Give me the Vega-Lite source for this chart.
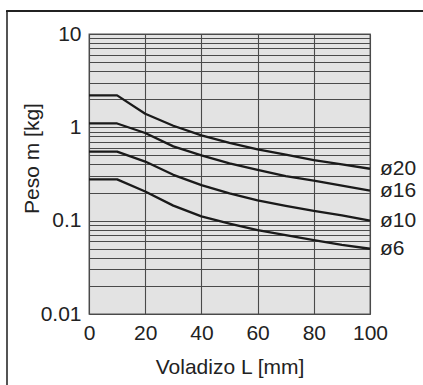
{
  "$schema": "https://vega.github.io/schema/vega-lite/v6.json",
  "width": 281,
  "height": 280,
  "autosize": {"type": "none"},
  "padding": {"left": 89, "top": 34, "right": 53, "bottom": 71},
  "background": "white",
  "config": {
    "font": "Liberation Sans",
    "view": {"fill": "#e3e3e3", "stroke": "#555555", "strokeWidth": 1.3}
  },
  "data": {
    "values": [
      {"s": "ø20", "L": 0, "m": 2.2}, {"s": "ø20", "L": 10, "m": 2.2}, {"s": "ø20", "L": 20, "m": 1.4}, {"s": "ø20", "L": 30, "m": 1.04}, {"s": "ø20", "L": 40, "m": 0.82}, {"s": "ø20", "L": 50, "m": 0.68}, {"s": "ø20", "L": 60, "m": 0.58}, {"s": "ø20", "L": 70, "m": 0.51}, {"s": "ø20", "L": 80, "m": 0.445}, {"s": "ø20", "L": 90, "m": 0.4}, {"s": "ø20", "L": 100, "m": 0.36},
      {"s": "ø16", "L": 0, "m": 1.1}, {"s": "ø16", "L": 10, "m": 1.1}, {"s": "ø16", "L": 20, "m": 0.87}, {"s": "ø16", "L": 30, "m": 0.625}, {"s": "ø16", "L": 40, "m": 0.5}, {"s": "ø16", "L": 50, "m": 0.41}, {"s": "ø16", "L": 60, "m": 0.35}, {"s": "ø16", "L": 70, "m": 0.30}, {"s": "ø16", "L": 80, "m": 0.268}, {"s": "ø16", "L": 90, "m": 0.237}, {"s": "ø16", "L": 100, "m": 0.21},
      {"s": "ø10", "L": 0, "m": 0.55}, {"s": "ø10", "L": 10, "m": 0.55}, {"s": "ø10", "L": 20, "m": 0.43}, {"s": "ø10", "L": 30, "m": 0.31}, {"s": "ø10", "L": 40, "m": 0.24}, {"s": "ø10", "L": 50, "m": 0.196}, {"s": "ø10", "L": 60, "m": 0.165}, {"s": "ø10", "L": 70, "m": 0.144}, {"s": "ø10", "L": 80, "m": 0.127}, {"s": "ø10", "L": 90, "m": 0.114}, {"s": "ø10", "L": 100, "m": 0.1},
      {"s": "ø6", "L": 0, "m": 0.277}, {"s": "ø6", "L": 10, "m": 0.277}, {"s": "ø6", "L": 20, "m": 0.205}, {"s": "ø6", "L": 30, "m": 0.145}, {"s": "ø6", "L": 40, "m": 0.111}, {"s": "ø6", "L": 50, "m": 0.093}, {"s": "ø6", "L": 60, "m": 0.079}, {"s": "ø6", "L": 70, "m": 0.07}, {"s": "ø6", "L": 80, "m": 0.062}, {"s": "ø6", "L": 90, "m": 0.055}, {"s": "ø6", "L": 100, "m": 0.05}
    ]
  },
  "layer": [
    {
      "mark": {"type": "line", "color": "#1a1a1a", "strokeWidth": 2.3, "strokeJoin": "round"},
      "encoding": {
        "x": {
          "field": "L", "type": "quantitative",
          "scale": {"domain": [0, 100], "nice": false},
          "axis": {
            "values": [0, 10, 20, 30, 40, 50, 60, 70, 80, 90, 100],
            "labelExpr": "datum.value % 20 == 0 ? datum.label : ''",
            "labelFlush": false,
            "grid": true, "gridColor": "#4a4a4a", "gridOpacity": 1, "gridWidth": 1.1,
            "ticks": false, "domain": false,
            "labelFontSize": 21, "labelColor": "#222222", "labelPadding": 8,
            "title": "Voladizo L [mm]", "titleFontSize": 21, "titleFontWeight": "normal", "titleColor": "#222222",
            "titleBaseline": "alphabetic", "titleY": 59
          }
        },
        "y": {
          "field": "m", "type": "quantitative",
          "scale": {"type": "log", "domain": [0.01, 10], "nice": false},
          "axis": {
            "values": [0.01, 0.02, 0.03, 0.04, 0.05, 0.06, 0.07, 0.08, 0.09, 0.1, 0.2, 0.3, 0.4, 0.5, 0.6, 0.7, 0.8, 0.9, 1, 2, 3, 4, 5, 6, 7, 8, 9, 10],
            "labelExpr": "datum.value == 0.01 ? '0.01' : datum.value == 0.1 ? '0.1' : datum.value == 1 ? '1' : datum.value == 10 ? '10' : ''",
            "labelFlush": false,
            "grid": true, "gridColor": "#4a4a4a", "gridOpacity": 1, "gridWidth": 1.1,
            "ticks": false, "domain": false,
            "labelFontSize": 21, "labelColor": "#222222", "labelPadding": 8,
            "title": "Peso m [kg]", "titleFontSize": 21, "titleFontWeight": "normal", "titleColor": "#222222",
            "titleX": -47, "titleY": 124
          }
        },
        "detail": {"field": "s"}
      }
    },
    {
      "transform": [{"filter": "datum.L == 100"}],
      "mark": {"type": "text", "align": "left", "baseline": "middle", "dx": 10, "fontSize": 21, "color": "#222222"},
      "encoding": {
        "x": {"field": "L", "type": "quantitative"},
        "y": {"field": "m", "type": "quantitative"},
        "text": {"field": "s"}
      }
    },
    {
      "mark": {"type": "rule", "color": "#555555", "strokeWidth": 1.5, "clip": false},
      "encoding": {
        "x": {"datum": -29.2},
        "y": {"datum": 17.6},
        "y2": {"datum": 0.0017}
      }
    },
    {
      "mark": {"type": "rule", "color": "#222222", "strokeWidth": 1.5, "clip": false},
      "encoding": {
        "x": {"datum": -29.2},
        "x2": {"datum": 120},
        "y": {"datum": 17.6}
      }
    }
  ]
}
